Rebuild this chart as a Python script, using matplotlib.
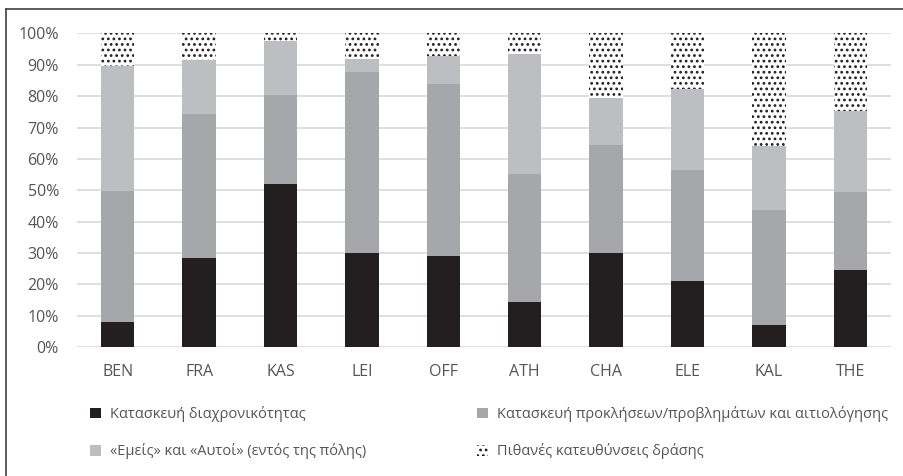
import numpy as np
import matplotlib.pyplot as plt
from matplotlib.patches import Patch
from matplotlib.lines import Line2D

plt.rcParams['font.family'] = ['Open Sans', 'DejaVu Sans']
plt.rcParams['hatch.linewidth'] = 1.2

# περιοχές / πόλεις
cities = ['BEN', 'FRA', 'KAS', 'LEI', 'OFF', 'ATH', 'CHA', 'ELE', 'KAL', 'THE']

# ποσοστά ανά κατηγορία (%)
diachronic = [7.9, 28.3, 52.0, 29.9, 29.0, 14.3, 29.9, 21.0, 7.0, 24.5]
problems = [42.0, 45.9, 28.3, 57.8, 54.7, 40.8, 34.4, 35.4, 36.7, 24.9]
we_they = [39.7, 17.4, 17.4, 4.1, 9.1, 38.4, 15.0, 25.8, 20.5, 25.7]
actions = [10.4, 8.4, 2.3, 8.2, 7.2, 6.5, 20.7, 17.8, 35.8, 24.9]

labels = ['Κατασκευή διαχρονικότητας',
          'Κατασκευή προκλήσεων/προβλημάτων και αιτιολόγησης',
          '«Εμείς» και «Αυτοί» (εντός της πόλης)',
          'Πιθανές κατευθύνσεις δράσης']

c_black = '#231f20'
c_mid = '#a6a7aa'
c_light = '#bdbec1'
c_text = '#555555'

fig = plt.figure(figsize=(9.04, 4.76), dpi=100)
ax = fig.add_axes([0.0852, 0.2704, 0.9004, 0.6596])

x = np.arange(len(cities))
w = 0.41
b1 = np.array(diachronic)
b2 = b1 + np.array(problems)
b3 = b2 + np.array(we_they)

ax.bar(x, diachronic, w, color=c_black, zorder=3)
ax.bar(x, problems, w, bottom=b1, color=c_mid, zorder=3)
ax.bar(x, we_they, w, bottom=b2, color=c_light, zorder=3)
ax.bar(x, actions, w, bottom=b3, color='white', edgecolor=c_black,
       hatch='...', linewidth=0, zorder=3)

ax.set_xlim(-0.5, len(cities) - 0.5)
ax.set_ylim(0, 100)
ax.set_yticks(np.arange(0, 101, 10))
ax.set_yticklabels([f'{v}%' for v in range(0, 101, 10)])
ax.set_xticks(x)
ax.set_xticklabels(cities)
ax.tick_params(axis='y', length=0, pad=13, labelsize=11.5, labelcolor=c_text)
ax.tick_params(axis='x', length=0, pad=12, labelsize=11.5, labelcolor=c_text)
ax.grid(axis='y', color='#d9d9d9', linewidth=1.2, zorder=0)
for s in ax.spines.values():
    s.set_visible(False)

handles = [Patch(facecolor=c_black), Patch(facecolor=c_mid),
           Patch(facecolor=c_light),
           Patch(facecolor='white', edgecolor=c_black, hatch='...', linewidth=0)]
order = [0, 2, 1, 3]
fig.legend([handles[i] for i in order], [labels[i] for i in order],
           ncol=2, loc='upper left', bbox_to_anchor=(0.092, 0.162),
           frameon=False, fontsize=10.5, labelcolor=c_text,
           handlelength=0.75, handleheight=0.75, handletextpad=0.6,
           labelspacing=1.45, columnspacing=7.6, borderpad=0)

# πλαίσιο εικόνας
fig.add_artist(Line2D([6.5 / 904, 1], [1 - 9 / 476] * 2, color='#404040', lw=1.2,
                      transform=fig.transFigure))
fig.add_artist(Line2D([6.5 / 904] * 2, [0, 1 - 9 / 476], color='#404040', lw=1.2,
                      transform=fig.transFigure))

fig.savefig('out.png', dpi=100)
